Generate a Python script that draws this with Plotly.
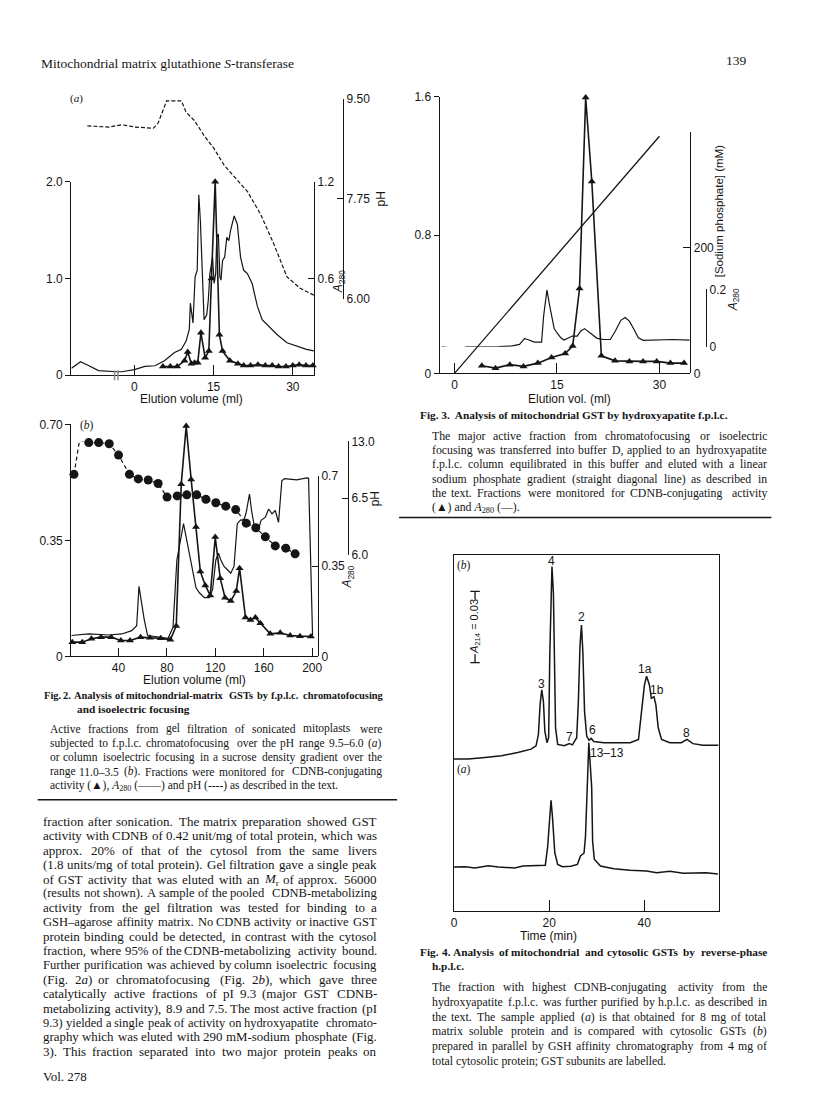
import re
import plotly.graph_objects as go

W, H = 816, 1108
SERIF = "Liberation Serif"
SANS = "Liberation Sans"
INK = "#151515"

# ---------------- Fig. 2a data ----------------
f2a_act_vol = [5.4, 6.8, 8.1, 9.5, 10.1, 10.8, 11.4, 12.0, 12.6, 13.4, 14.1, 14.6, 15.3, 16.1, 16.7,
               18.1, 19.6, 20.7, 22.0, 23.4, 24.8, 26.1, 27.3, 28.7, 30.0, 31.2, 32.5, 33.8]
f2a_act = [0.09, 0.09, 0.09, 0.15, 0.24, 0.12, 0.13, 0.13, 0.44, 0.18, 0.25, 1.0, 2.0, 0.42, 0.25,
           0.15, 0.12, 0.10, 0.10, 0.11, 0.10, 0.10, 0.09, 0.09, 0.10, 0.11, 0.10, 0.10]
f2a_a280_vol = [-11.9, -10.2, -8.6, -6.8, -3.4, -2.4, 0.0, 2.0, 3.9, 5.7, 7.6, 8.9, 9.8, 10.4, 10.6,
                11.1, 11.5, 11.9, 12.2, 12.5, 12.9, 13.2, 13.7, 14.0, 14.3, 14.6, 14.8, 15.1, 15.4,
                15.6, 15.9, 16.2, 16.4, 16.7, 17.1, 17.5, 17.9, 18.2, 18.9, 19.5, 20.1, 20.7, 21.4,
                22.3, 23.3, 24.2, 25.4, 27.0, 28.9, 30.7, 32.6, 34.0]
f2a_a280 = [0.043, 0.084, 0.059, 0.029, 0.022, 0.022, 0.035, 0.055, 0.059, 0.09, 0.141, 0.161, 0.212,
            0.284, 0.447, 0.324, 0.61, 0.651, 1.12, 0.957, 0.61, 0.345, 0.375, 0.467, 0.631, 0.692,
            0.733, 0.569, 0.631, 0.855, 0.876, 0.61, 0.59, 0.712, 0.733, 0.855, 0.835, 0.896, 0.988,
            0.937, 0.733, 0.651, 0.631, 0.569, 0.427, 0.345, 0.304, 0.253, 0.202, 0.182, 0.161, 0.151]
f2a_ph_vol = [-8.9, -4.9, -2.4, 0.1, 3.6, 4.5, 6.1, 8.9, 9.8, 11.4, 13.2, 15.1, 17.0, 18.9, 21.4,
              23.9, 26.4, 28.9, 31.4, 34.0]
f2a_ph = [9.03, 9.01, 9.05, 9.01, 8.99, 9.08, 9.47, 9.47, 9.27, 9.12, 8.86, 8.63, 8.34, 8.14, 7.88,
          7.48, 6.96, 6.38, 6.18, 6.06]

# ---------------- Fig. 2b data ----------------
f2b_act_vol = [1.8, 10.0, 17.6, 25.5, 34.0, 41.9, 49.5, 58.2, 65.9, 74.9, 82.8, 87.7, 91.8, 95.9,
               100.0, 104.0, 107.6, 111.7, 115.8, 119.9, 124.0, 128.0, 132.7, 137.3, 140.0, 144.9,
               149.0, 153.1, 157.2, 165.4, 173.6, 181.8, 189.9, 198.9]
f2b_act = [0.043, 0.043, 0.053, 0.058, 0.058, 0.048, 0.048, 0.058, 0.056, 0.055, 0.050, 0.092, 0.519,
           0.695, 0.534, 0.39, 0.256, 0.214, 0.184, 0.36, 0.236, 0.177, 0.167, 0.197, 0.266, 0.117,
           0.11, 0.117, 0.10, 0.068, 0.071, 0.063, 0.061, 0.06]
f2b_a280_vol = [1.0, 15.4, 31.8, 42.7, 50.9, 55.0, 56.9, 58.5, 61.2, 64.0, 72.7, 80.9, 85.0, 88.2,
                93.7, 95.9, 98.6, 101.3, 104.0, 106.8, 110.9, 115.0, 117.7, 120.4, 122.6, 124.5,
                127.2, 130.0, 132.7, 135.4, 138.1, 140.9, 143.6, 145.5, 148.2, 149.9, 152.3, 155.0,
                157.8, 161.3, 164.0, 166.8, 169.5, 172.2, 174.9, 177.1, 187.2, 195.4, 197.0, 200.3]
f2b_a280 = [0.081, 0.087, 0.083, 0.087, 0.10, 0.119, 0.272, 0.221, 0.144, 0.081, 0.074, 0.07, 0.113,
            0.374, 0.515, 0.464, 0.387, 0.33, 0.266, 0.247, 0.228, 0.228, 0.259, 0.374, 0.40, 0.374,
            0.349, 0.336, 0.323, 0.349, 0.515, 0.53, 0.528, 0.559, 0.63, 0.566, 0.502, 0.483, 0.528,
            0.54, 0.572, 0.553, 0.566, 0.52, 0.681, 0.69, 0.685, 0.693, 0.691, 0.081]
f2b_ph_vol = [3.2, 7.8, 15.4, 23.6, 32.3, 40.0, 49.0, 56.3, 64.5, 72.7, 80.1, 88.5, 96.4, 104.6,
              112.2, 120.4, 128.6, 136.8, 145.5, 153.4, 161.3, 169.5, 178.2, 185.9]
f2b_ph = [6.71, 7.01, 6.99, 6.99, 6.98, 6.88, 6.71, 6.67, 6.66, 6.63, 6.51, 6.52, 6.53, 6.53, 6.49,
          6.46, 6.43, 6.40, 6.28, 6.24, 6.16, 6.08, 6.06, 6.01]
f2b_ph_ticks = [6.0, 6.5, 7.0]
f2b_ph_ticktext = ["6.0", "6.5", "13.0"]

# ---------------- Fig. 3 data ----------------
f3_act_vol = [4.0, 6.0, 8.1, 10.1, 12.2, 14.2, 16.2, 17.3, 18.3, 19.2, 20.1, 21.5, 23.5, 25.6, 27.6,
              29.6, 31.6, 33.6]
f3_act = [0.044, 0.030, 0.050, 0.040, 0.059, 0.091, 0.114, 0.158, 0.491, 1.596, 1.11, 0.101, 0.072,
          0.069, 0.069, 0.069, 0.059, 0.059]
f3_a280_vol = [-1.84, -0.39, 0.58, 1.79, 3.96, 6.38, 8.31, 9.52, 10.24, 10.72, 11.69, 12.75, 13.04,
               13.53, 13.86, 14.25, 14.59, 15.07, 15.56, 16.04, 16.76, 17.25, 17.97, 18.45, 19.03,
               19.52, 20.14, 20.87, 21.84, 22.8, 23.53, 24.35, 24.98, 25.6, 26.28, 26.91, 27.63,
               28.6, 30.53, 31.98, 34.4]
f3_a280 = [-0.001, -0.006, -0.007, -0.001, -0.001, 0.0, 0.002, 0.008, 0.028, 0.025, 0.016, 0.016,
           0.106, 0.198, 0.152, 0.106, 0.063, 0.046, 0.031, 0.023, 0.031, 0.037, 0.037, 0.054, 0.063,
           0.054, 0.04, 0.029, 0.025, 0.025, 0.054, 0.092, 0.102, 0.089, 0.06, 0.031, 0.022, 0.023,
           0.025, 0.025, 0.023]
f3_grad_vol = [0.0, 30.0]
f3_grad_mm = [0.0, 378.0]

# ---------------- Fig. 4 data ----------------
f4b_t = [0, 3.0, 6.5, 10.0, 13.4, 16.2, 17.25, 17.75, 18.1, 18.45, 18.8, 19.1, 19.55, 19.9, 20.15,
         20.4, 20.6, 20.9, 21.1, 21.35, 21.8, 23.2, 24.25, 24.9, 25.8, 26.15, 26.5, 26.8, 27.1, 27.45,
         27.9, 28.4, 28.85, 29.4, 31.5, 34.3, 37.05, 38.8, 39.5, 40.05, 40.5, 41.1, 41.5, 42.05,
         42.45, 42.95, 43.65, 45.4, 47.8, 49.0, 50.25, 52.35, 55.65]
f4b_abs = [0.0641, 0.0641, 0.0648, 0.0655, 0.0669, 0.0683, 0.0697, 0.0745, 0.087, 0.0932, 0.0884,
           0.0759, 0.071, 0.0731, 0.1091, 0.1341, 0.1451, 0.1341, 0.1091, 0.0773, 0.0703, 0.0697,
           0.0706, 0.0701, 0.0731, 0.0884, 0.1119, 0.1205, 0.1091, 0.0842, 0.0738, 0.072, 0.0728,
           0.0715, 0.071, 0.071, 0.071, 0.0724, 0.0842, 0.0953, 0.099, 0.0953, 0.0897, 0.0904,
           0.087, 0.0773, 0.0724, 0.071, 0.071, 0.0724, 0.0706, 0.0699, 0.0699]
f4a_t = [0, 2.35, 4.4, 7.2, 9.3, 12.75, 14.5, 17.6, 19.2, 19.7, 20.05, 20.4, 20.7, 21.2, 21.8, 22.8,
         24.55, 25.95, 26.6, 27.35, 27.65, 27.95, 28.35, 28.95, 29.15, 29.5, 30.8, 33.6, 37.05, 40.5,
         42.6, 45.4, 48.2, 53.0, 55.5]
f4a_abs = [0.0187, 0.0188, 0.0183, 0.0192, 0.0187, 0.0183, 0.0191, 0.0192, 0.0194, 0.0274, 0.0399,
           0.0468, 0.0399, 0.0246, 0.0198, 0.0188, 0.019, 0.0198, 0.0233, 0.0246, 0.0316, 0.0523,
           0.071, 0.0523, 0.0295, 0.022, 0.0191, 0.018, 0.0173, 0.017, 0.0163, 0.0169, 0.0161,
           0.0163, 0.0157]
f4_scale_abs = 0.03
f4_peak_labels = ["4", "2", "3", "1a", "1b", "7", "6", "8", "13–13"]

# ---------------- page text ----------------
fig2_title = ["Fig. 2.  Analysis of mitochondrial-matrix GSTs by f.p.l.c. chromatofocusing",
              "and isoelectric focusing"]
fig2_caption = ["Active fractions from gel filtration of sonicated mitoplasts were",
                "subjected to f.p.l.c. chromatofocusing over the pH range 9.5–6.0 (<i>a</i>)",
                "or column isoelectric focusing in a sucrose density gradient over the",
                "range 11.0–3.5 (<i>b</i>). Fractions were monitored for CDNB-conjugating",
                "activity (▲), <i>A</i><sub>280</sub> (——) and pH (----) as described in the text."]
fig3_title = "Fig. 3.  Analysis of mitochondrial GST by hydroxyapatite f.p.l.c."
fig3_caption = ["The major active fraction from chromatofocusing or isoelectric",
                "focusing was transferred into buffer D, applied to an hydroxyapatite",
                "f.p.l.c. column equilibrated in this buffer and eluted with a linear",
                "sodium phosphate gradient (straight diagonal line) as described in",
                "the text. Fractions were monitored for CDNB-conjugating activity",
                "(▲) and <i>A</i><sub>280</sub> (—)."]
fig4_title = ["Fig. 4.  Analysis of mitochondrial and cytosolic GSTs by reverse-phase",
              "h.p.l.c."]
fig4_caption = ["The fraction with highest CDNB-conjugating activity from the",
                "hydroxyapatite f.p.l.c. was further purified by h.p.l.c. as described in",
                "the text. The sample applied (<i>a</i>) is that obtained for 8 mg of total",
                "matrix soluble protein and is compared with cytosolic GSTs (<i>b</i>)",
                "prepared in parallel by GSH affinity chromatography from 4 mg of",
                "total cytosolic protein; GST subunits are labelled."]
body_text = ["fraction after sonication. The matrix preparation showed GST",
             "activity with CDNB of 0.42 unit/mg of total protein, which was",
             "approx. 20% of that of the cytosol from the same livers",
             "(1.8 units/mg of total protein). Gel filtration gave a single peak",
             "of GST activity that was eluted with an <i>M</i><sub>r</sub> of approx. 56000",
             "(results not shown). A sample of the pooled CDNB-metabolizing",
             "activity from the gel filtration was tested for binding to a",
             "GSH–agarose affinity matrix. No CDNB activity or inactive GST",
             "protein binding could be detected, in contrast with the cytosol",
             "fraction, where 95% of the CDNB-metabolizing activity bound.",
             "Further purification was achieved by column isoelectric focusing",
             "(Fig. 2<i>a</i>) or chromatofocusing (Fig. 2<i>b</i>), which gave three",
             "catalytically active fractions of pI 9.3 (major GST CDNB-",
             "metabolizing activity), 8.9 and 7.5. The most active fraction (pI",
             "9.3) yielded a single peak of activity on hydroxyapatite chromato-",
             "graphy which was eluted with 290 mM-sodium phosphate (Fig.",
             "3). This fraction separated into two major protein peaks on"]

# ---------------- figure ----------------
fig = go.Figure()
LINE = dict(color=INK, width=1.2)
TRI = dict(symbol="triangle-up", size=7, color=INK)

# Fig 2a
fig.add_trace(go.Scatter(x=f2a_a280_vol, y=f2a_a280, xaxis="x", yaxis="y2", mode="lines", line=LINE))
fig.add_trace(go.Scatter(x=f2a_act_vol, y=f2a_act, xaxis="x", yaxis="y", mode="lines+markers",
                         line=dict(color=INK, width=1.6), marker=TRI, cliponaxis=False))
fig.add_trace(go.Scatter(x=f2a_ph_vol, y=f2a_ph, xaxis="x", yaxis="y3", mode="lines",
                         line=dict(color=INK, width=1.2, dash="4px,2px"), cliponaxis=False))
# Fig 2b
fig.add_trace(go.Scatter(x=f2b_a280_vol, y=f2b_a280, xaxis="x2", yaxis="y5", mode="lines", line=LINE,
                         cliponaxis=False))
fig.add_trace(go.Scatter(x=f2b_act_vol, y=f2b_act, xaxis="x2", yaxis="y4", mode="lines+markers",
                         line=dict(color=INK, width=1.6), marker=TRI, cliponaxis=False))
fig.add_trace(go.Scatter(x=f2b_ph_vol, y=f2b_ph, xaxis="x2", yaxis="y6", mode="lines+markers",
                         line=dict(color=INK, width=1.2, dash="4px,3px"),
                         marker=dict(symbol="circle", size=9, color=INK), cliponaxis=False))
# Fig 3
fig.add_trace(go.Scatter(x=f3_a280_vol, y=f3_a280, xaxis="x3", yaxis="y9", mode="lines", line=LINE,
                         cliponaxis=False))
fig.add_trace(go.Scatter(x=f3_grad_vol, y=f3_grad_mm, xaxis="x3", yaxis="y8", mode="lines",
                         line=dict(color=INK, width=1.3), cliponaxis=False))
fig.add_trace(go.Scatter(x=f3_act_vol, y=f3_act, xaxis="x3", yaxis="y7", mode="lines+markers",
                         line=dict(color=INK, width=1.6), marker=TRI, cliponaxis=False))
# Fig 4
fig.add_trace(go.Scatter(x=f4b_t, y=f4b_abs, xaxis="x4", yaxis="y10", mode="lines",
                         line=dict(color=INK, width=1.5)))
fig.add_trace(go.Scatter(x=f4a_t, y=f4a_abs, xaxis="x4", yaxis="y10", mode="lines",
                         line=dict(color=INK, width=1.5)))


def ydom(top, bot):
    return [1 - bot / H, 1 - top / H]


AX = dict(showgrid=False, zeroline=False, showline=True, linecolor=INK, linewidth=1.3,
          tickcolor=INK, tickwidth=1.2, fixedrange=True,
          tickfont=dict(family=SANS, size=12, color=INK))

fig.update_layout(
    width=W, height=H, margin=dict(l=0, r=0, t=0, b=0), showlegend=False,
    paper_bgcolor="white", plot_bgcolor="rgba(0,0,0,0)",
    # Fig 2a
    xaxis=dict(domain=[69 / W, 314 / W], range=[-11.94, 34.0], anchor="y", tickvals=[0, 15, 30],
               ticks="inside", ticklen=10, **AX),
    yaxis=dict(domain=ydom(177, 373), range=[0, 2.0], anchor="x", tickvals=[0, 1.0, 2.0],
               ticktext=["0", "1.0", "2.0"], ticks="outside", ticklen=5, **AX),
    yaxis2=dict(overlaying="y", side="right", anchor="x", range=[0, 1.2], tickvals=[0.6, 1.2],
                ticktext=["0.6", "1.2"], ticks="inside", ticklen=6, **AX),
    yaxis3=dict(domain=ydom(93.3, 295.3), anchor="free", position=343.3 / W, side="right",
                range=[6.0, 9.5], tickvals=[6.0, 7.75, 9.5], ticktext=["6.00", "7.75", "9.50"],
                ticks="inside", ticklen=6, **AX),
    # Fig 2b
    xaxis2=dict(domain=[69 / W, 318 / W], range=[1.0, 204.7], anchor="y4",
                tickvals=[40, 80, 120, 160, 200], ticks="inside", ticklen=8, **AX),
    yaxis4=dict(domain=ydom(422.7, 657.7), range=[0, 0.70], anchor="x2", tickvals=[0, 0.35, 0.70],
                ticktext=["0", "0.35", "0.70"], ticks="outside", ticklen=5, **AX),
    yaxis5=dict(domain=ydom(475, 657.7), anchor="free", position=318 / W, side="right",
                range=[0, 0.7], tickvals=[0, 0.35, 0.7], ticktext=["0", "0.35", "0.7"],
                ticks="inside", ticklen=6, **AX),
    yaxis6=dict(domain=ydom(440, 555), anchor="free", position=348.3 / W, side="right",
                range=[6.0, 7.0], tickvals=f2b_ph_ticks, ticktext=f2b_ph_ticktext,
                ticks="inside", ticklen=6, **AX),
    # Fig 3
    xaxis3=dict(domain=[441 / W, 694 / W], range=[-2.17, 34.5], anchor="y7", tickvals=[0, 15, 30],
                ticks="inside", ticklen=10, **AX),
    yaxis7=dict(domain=ydom(91, 371), range=[0, 1.6], anchor="x3", tickvals=[0, 0.8, 1.6],
                ticktext=["0", "0.8", "1.6"], ticks="outside", ticklen=5, **AX),
    yaxis8=dict(domain=ydom(126.7, 371), anchor="free", position=694 / W, side="right",
                range=[0, 384.7], tickvals=[0, 200, 384.7], ticktext=["0", "200", " "],
                ticks="inside", ticklen=7, **AX),
    yaxis9=dict(domain=ydom(286, 344), anchor="free", position=710 / W, side="right",
                range=[0, 0.2], tickvals=[0, 0.2], ticktext=["0", "0.2"], ticks="inside",
                ticklen=6, **AX),
    # Fig 4
    xaxis4=dict(domain=[455.5 / W, 722.7 / W], range=[0, 55.65], anchor="y10",
                tickvals=[0, 20, 40], ticks="inside", ticklen=11, mirror=True, **AX),
    yaxis10=dict(domain=ydom(555, 916), range=[0, 0.15], anchor="x4", showticklabels=False,
                 ticks="", mirror=True, **AX),
)


def T(x, y, text, size=12, family=SERIF, xanchor="left", angle=0, bg=None):
    fig.add_annotation(x=x / W, y=1 - y / H, xref="paper", yref="paper", text=text, showarrow=False,
                       xanchor=xanchor, yanchor="middle", textangle=angle,
                       font=dict(family=family, size=size, color=INK),
                       bgcolor=bg, borderpad=0, borderwidth=0)


# --- Times metrics (Liberation Serif is metric-compatible) used to justify text lines ---
_TR = dict(zip("abcdefghijklmnopqrstuvwxyz",
               [444, 500, 444, 500, 444, 333, 500, 500, 278, 278, 500, 278, 778, 500, 500, 500, 500,
                333, 389, 278, 500, 500, 722, 500, 500, 444]))
_TR.update(zip("ABCDEFGHIJKLMNOPQRSTUVWXYZ",
               [722, 667, 667, 722, 611, 556, 722, 722, 333, 389, 722, 611, 889, 722, 722, 556, 722,
                667, 556, 611, 722, 722, 944, 722, 722, 611]))
_TR.update({c: 500 for c in "0123456789"})
_TR.update({" ": 250, ".": 250, ",": 250, "(": 333, ")": 333, "-": 333, "–": 500, "—": 1000,
            "/": 278, ";": 278, ":": 278, "%": 833, "[": 333, "]": 333, "=": 564, "▲": 800})
_TB = dict(zip("abcdefghijklmnopqrstuvwxyz",
               [500, 556, 444, 556, 444, 333, 500, 556, 278, 333, 556, 278, 833, 556, 500, 556, 556,
                444, 389, 333, 556, 500, 722, 500, 500, 444]))
_TB.update(zip("ABCDEFGHIJKLMNOPQRSTUVWXYZ",
               [722, 667, 722, 722, 667, 611, 778, 778, 389, 500, 778, 667, 944, 722, 778, 611, 778,
                722, 556, 667, 722, 722, 1000, 722, 722, 667]))
_TB.update({c: 500 for c in "0123456789"})
_TB.update({" ": 250, ".": 250, ",": 250, "(": 333, ")": 333, "-": 333, ":": 333, ";": 333})
SAFE = 1.05
MINGAP = 0.2


def units(s, bold=False):
    tab = _TB if bold else _TR
    tot = 0.0
    for part in re.split(r"(<sub>.*?</sub>)", s):
        scale = 0.7 if part.startswith("<sub>") else 1.0
        plain = re.sub(r"<[^>]+>", "", part)
        tot += scale * sum(tab.get(c, 500) for c in plain)
    return tot * SAFE / 1000.0


def block(lines, x0, x1, y0, dy, size, bold=False, justify_last=False, indents=None):
    for i, line in enumerate(lines):
        y = y0 + i * dy
        xs = x0 + (indents[i] if indents else 0)
        words = line.split()
        wrap = (lambda s: "<b>" + s + "</b>") if bold else (lambda s: s)
        last = i == len(lines) - 1
        if (last and not justify_last) or len(words) < 2:
            T(xs, y, wrap(line), size)
            continue
        u = [units(w_, bold) for w_ in words]
        fit = (x1 - xs) / (sum(u) + MINGAP * (len(words) - 1))
        s = min(size, fit)
        widths = [ui * s for ui in u]
        gap = (x1 - xs - sum(widths)) / (len(words) - 1)
        x = xs
        for j, (w_, wi) in enumerate(zip(words, widths)):
            if j == len(words) - 1:
                T(x1, y, wrap(w_), s, xanchor="right")
            else:
                T(x, y, wrap(w_), s)
            x += wi + gap


def hline(x0, x1, y, w=1.5, color=INK):
    fig.add_shape(type="line", xref="paper", yref="paper", x0=x0 / W, x1=x1 / W,
                  y0=1 - y / H, y1=1 - y / H, line=dict(color=color, width=w))


RC = 772  # right edge of right-column captions

# header
T(38, 57, "Mitochondrial matrix glutathione <i>S</i>-transferase", 13.5)
T(741, 54, "139", 13.5, xanchor="center")

# Fig 2a labels
T(68, 93, "(<i>a</i>)", 11)
T(381.7, 194, "pH", 12, SANS, "center", -90)
T(340, 278, "<i>A</i><sub>280</sub>", 12, SANS, "center", -90)
T(190, 397, "Elution volume (ml)", 12, SANS, "center")
for xb in (-3.75, -3.1):
    fig.add_shape(type="line", xref="x", yref="paper", x0=xb, x1=xb, y0=1 - 378 / H,
                  y1=1 - 368 / H, line=dict(color="#888888", width=1.5))

# Fig 2b labels
T(85, 424, "(<i>b</i>)", 11.5, SERIF, "center")
T(348.3, 577, "<i>A</i><sub>280</sub>", 12, SANS, "center", -90)
T(376, 498.3, "pH", 12, SANS, "center", -90)
T(193.3, 682, "Elution volume (ml)", 12, SANS, "center")

# Fig 2 caption
block(fig2_title, 41, 385, 697, 14, 11.3, bold=True, indents=[0, 34])
block(fig2_caption, 47, 383, 731, 14.5, 11.5)
hline(35, 398, 803)

# body text
block(body_text, 40, 378, 825, 14.55, 13.0, justify_last=True)
T(40, 1083, "Vol. 278", 13.0)

# Fig 3 labels
T(571.7, 397, "Elution vol. (ml)", 12, SANS, "center")
T(723, 207, "[Sodium phosphate] (mM)", 11.5, SANS, "center", -90)
T(738.3, 297, "<i>A</i><sub>280</sub>", 12, SANS, "center", -90)
T(421, 413, "<b>" + fig3_title + "</b>", 11.3)
block(fig3_caption, 433, RC, 434, 14.6, 11.8)
hline(400, RC + 4, 517)

# Fig 4 labels
peak_pos = [(554.3, 560.7), (584, 618.3), (543.7, 685.7), (648.3, 670.7), (660.7, 691.7),
            (571.7, 739.3), (595.7, 732.7), (690.7, 735), (610, 756)]
for lab, (xx, yy) in zip(f4_peak_labels, peak_pos):
    T(xx, yy, lab, 12, SANS, "center")
T(465.7, 566, "(<i>b</i>)", 11.5, SERIF, "center")
T(465.7, 772, "(<i>a</i>)", 11.5, SERIF, "center")
T(551, 941, "Time (min)", 12, SANS, "center")
sb_t, sb_y0 = 4.42, 0.1047
fig.add_shape(type="line", xref="x4", yref="y10", x0=sb_t, x1=sb_t, y0=sb_y0,
              y1=sb_y0 + f4_scale_abs, line=dict(color=INK, width=1.3))
for yy in (sb_y0, sb_y0 + f4_scale_abs):
    fig.add_shape(type="line", xref="x4", yref="y10", x0=sb_t - 1.0, x1=sb_t + 1.0, y0=yy, y1=yy,
                  line=dict(color=INK, width=1.3))
T(476.7, 628, "<i>A</i><sub>214</sub> = 0.03", 11, SANS, "center", -90, bg="white")

block(fig4_title, 421, RC, 957, 14, 11.3, bold=True, indents=[0, 12])
block(fig4_caption, 433, RC, 993, 14.8, 11.8)

fig.write_html("out.html", config={"displayModeBar": False},
               post_script="document.body.style.margin='0';")
